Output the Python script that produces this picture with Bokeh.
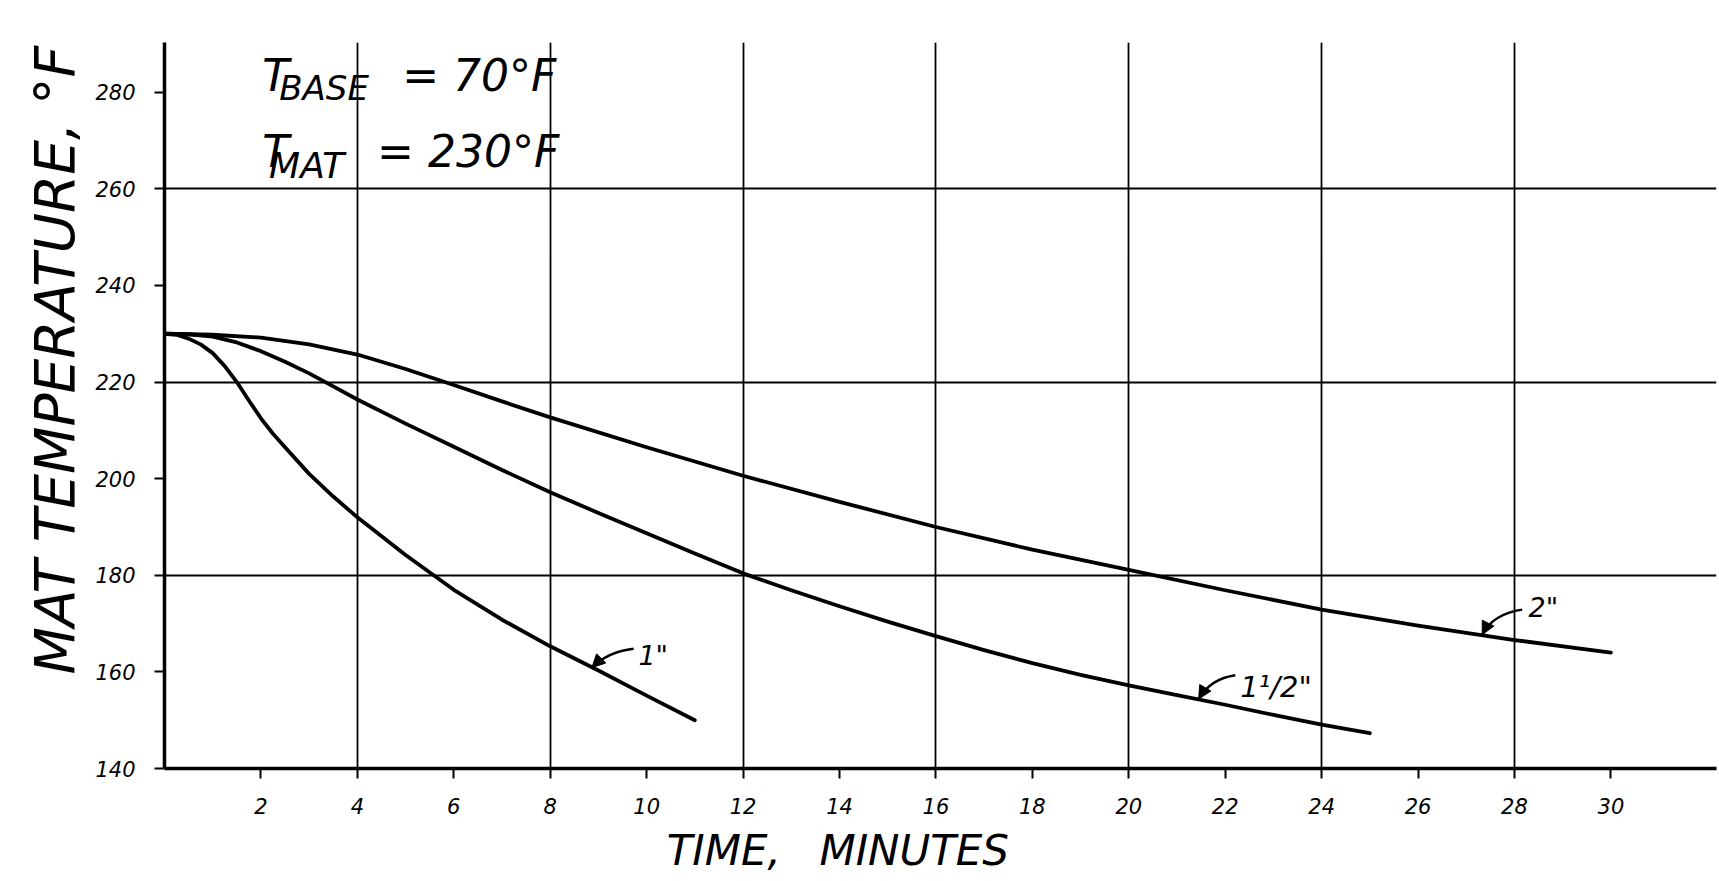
import math
from bokeh.plotting import figure
from bokeh.models import (Range1d, FixedTicker, Label, Arrow, NormalHead, LinearAxis, Title)
from bokeh.embed import file_html
from bokeh.resources import INLINE

# ---- data ----
time_1in = [0, 0.25, 0.5, 0.75, 1.0, 1.25, 1.5, 1.75, 2.0, 2.25, 2.5, 3.0, 3.5, 4.0, 5.0, 6.0,
            7.0, 8.0, 9.0, 10.0, 11.0]
temp_1in = [230, 229.8, 229.0, 227.8, 226.0, 223.3, 220.0, 216.2, 212.5, 209.3, 206.5, 201.0,
            196.3, 192.0, 184.2, 177.0, 170.8, 165.3, 160.3, 155.1, 150.0]

time_15in = [0, 0.5, 1, 1.5, 2, 2.5, 3, 3.5, 4, 5, 6, 7, 8, 9, 10, 11, 12, 13, 14, 15, 16,
             17, 18, 19, 20, 21, 22, 23, 24, 25]
temp_15in = [230, 229.9, 229.4, 228.2, 226.4, 224.2, 221.8, 219.1, 216.4, 211.4, 206.6, 201.8,
             197.2, 192.9, 188.7, 184.5, 180.4, 176.9, 173.6, 170.4, 167.4, 164.5, 161.8, 159.4,
             157.2, 155.2, 153.2, 151.1, 149.1, 147.3]

time_2in = [0, 1, 2, 3, 4, 5, 6, 7, 8, 10, 12, 14, 16, 18, 20, 22, 24, 26, 28, 30]
temp_2in = [230, 229.8, 229.2, 227.8, 225.7, 222.7, 219.4, 216.0, 212.7, 206.5, 200.6, 195.2,
            190.0, 185.3, 181.1, 176.9, 172.9, 169.6, 166.6, 164.0]

series_names = ['1"', '1\u00b9/2"', '2"']

x_ticks = [2, 4, 6, 8, 10, 12, 14, 16, 18, 20, 22, 24, 26, 28, 30]
y_ticks = [140, 160, 180, 200, 220, 240, 260, 280]
x_grid = [4, 8, 12, 16, 20, 24, 28]
y_grid = [180, 220, 260]

x_title_words = ["TIME,", "MINUTES"]
y_title = "MAT TEMPERATURE, \u00b0F"

FONT = "DejaVu Sans"

p = figure(width=1719, height=881,
           x_range=Range1d(0, 32.19), y_range=Range1d(140, 290.3),
           output_backend="svg", toolbar_location=None,
           min_border_left=164, min_border_right=3,
           min_border_top=42, min_border_bottom=113)
p.outline_line_color = None
p.background_fill_color = "white"
p.border_fill_color = "white"

# grid
p.xgrid.ticker = FixedTicker(ticks=x_grid)
p.ygrid.ticker = FixedTicker(ticks=y_grid)
for g in (p.xgrid, p.ygrid):
    g.grid_line_color = "black"
    g.grid_line_width = 1.8
    g.grid_line_alpha = 1.0

# axes
p.xaxis.ticker = FixedTicker(ticks=x_ticks)
p.yaxis.ticker = FixedTicker(ticks=y_ticks)
for ax in (p.xaxis, p.yaxis):
    ax.axis_line_width = 3.5
    ax.axis_line_color = "black"
    ax.major_tick_out = 10
    ax.major_tick_in = 0
    ax.major_tick_line_width = 2
    ax.major_tick_line_color = "black"
    ax.minor_tick_line_color = None
    ax.major_label_text_font = FONT
    ax.major_label_text_font_style = "italic"
    ax.major_label_text_font_size = "21px"
    ax.major_label_text_color = "black"
    ax.major_label_standoff = 19

# x axis title words placed as a label row under the tick labels
title_pos = [11.6, 15.55]
xt = LinearAxis(ticker=FixedTicker(ticks=title_pos),
                major_label_overrides={title_pos[0]: x_title_words[0], title_pos[1]: x_title_words[1]})
xt.axis_line_color = None
xt.major_tick_line_color = None
xt.minor_tick_line_color = None
xt.major_tick_out = 0
xt.major_tick_in = 0
xt.major_label_standoff = 9
xt.major_label_text_font = FONT
xt.major_label_text_font_style = "italic"
xt.major_label_text_font_size = "42px"
xt.major_label_text_color = "black"
p.add_layout(xt, "below")

# y axis title
yt = Title(text=y_title, align="left", offset=94, vertical_align="middle",
           text_font=FONT, text_font_style="italic", text_font_size="55px",
           text_color="black")
p.add_layout(yt, "left")

# curves
for tx, ty in ((time_1in, temp_1in), (time_15in, temp_15in), (time_2in, temp_2in)):
    p.line(tx, ty, line_width=3.8, line_color="black", line_join="round", line_cap="round")

# leader arrows: (start, control, tip)
leaders = [
    ((9.73, 164.8), (9.2, 164.2), (8.865, 160.9)),
    ((22.21, 159.3), (21.7, 158.6), (21.45, 154.4)),
    ((28.16, 172.9), (27.55, 172.0), (27.33, 167.7)),
]
for (s, c, t) in leaders:
    p.quadratic(x0=[s[0]], y0=[s[1]], x1=[t[0]], y1=[t[1]], cx=[c[0]], cy=[c[1]],
                line_width=2.4, line_color="black")
    p.add_layout(Arrow(end=NormalHead(size=13, fill_color="black", line_color="black", line_width=1),
                       x_start=c[0], y_start=c[1], x_end=t[0], y_end=t[1], line_alpha=0))

label_pos = [(9.83, 163.4), (22.31, 156.8), (28.29, 173.3)]
label_size = ["27px", "29px", "27px"]
for name, (lx, ly), fs in zip(series_names, label_pos, label_size):
    p.add_layout(Label(x=lx, y=ly, text=name, text_font=FONT, text_font_style="italic",
                       text_font_size=fs, text_color="black", text_baseline="alphabetic"))


# condition text
def lab(x, y, text, size):
    p.add_layout(Label(x=x, y=y, text=text, text_font=FONT, text_font_style="italic",
                       text_font_size=size, text_color="black", text_baseline="alphabetic"))


lab(2.03, 283.5, "T", "44px")
lab(2.38, 280.9, "BASE", "34px")
lab(4.93, 283.5, "= 70\u00b0F", "44px")
lab(2.03, 267.8, "T", "44px")
lab(2.17, 264.9, "MAT", "36px")
lab(4.41, 267.8, "= 230\u00b0F", "44px")

open("out.html", "w").write(file_html(p, INLINE))
